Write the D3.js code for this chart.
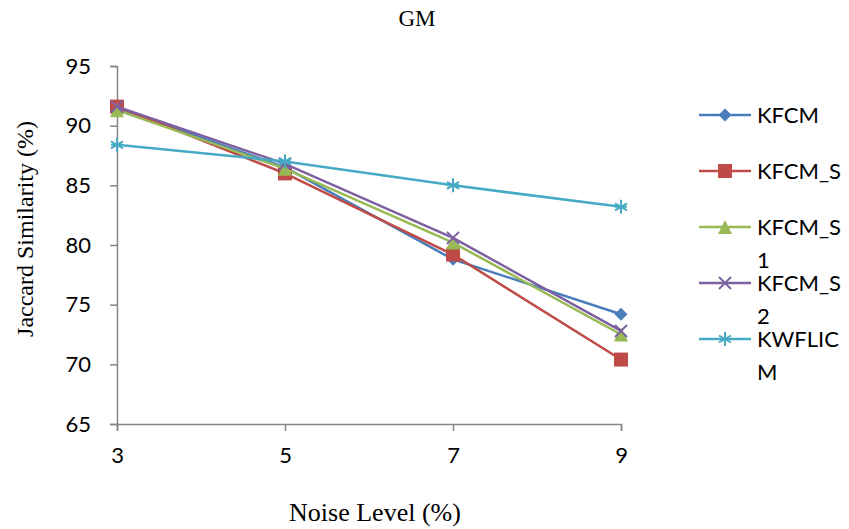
<!DOCTYPE html>
<html><head><meta charset="utf-8">
<script src="https://cdn.jsdelivr.net/npm/d3@7"></script>
<style>body{margin:0;background:#fff}svg{display:block}</style>
</head><body><svg id="c" width="849" height="529"></svg>
<script>
const noiseLevels = [3, 5, 7, 9];
const seriesNames = ["KFCM", "KFCM_S", "KFCM_S1", "KFCM_S2", "KWFLICM"];
const kfcm    = [91.5, 86.5, 78.8, 74.2];
const kfcmS   = [91.6, 86.0, 79.2, 70.4];
const kfcmS1  = [91.3, 86.4, 80.2, 72.5];
const kfcmS2  = [91.6, 86.8, 80.6, 72.8];
const kwflicm = [88.4, 87.0, 85.0, 83.2];
const yTicks = [65, 70, 75, 80, 85, 90, 95];
const legendLines = [["KFCM"], ["KFCM_S"], ["KFCM_S", "1"], ["KFCM_S", "2"], ["KWFLIC", "M"]];

const colors = ["#4A7EBB", "#BE4B48", "#98B954", "#7D60A0", "#46AAC5"];
const shapes = ["diamond", "square", "triangle", "x", "star"];
const data = [kfcm, kfcmS, kfcmS1, kfcmS2, kwflicm];

const svg = d3.select("#c");
const x = d3.scaleLinear().domain([3, 9]).range([117, 621]);
const y = d3.scaleLinear().domain([65, 95]).range([424, 66]);
const axisCol = "#868686";
const tickFont = "Lato, 'Open Sans', sans-serif";
const serif = "'Liberation Serif', 'DejaVu Serif', serif";

// title
svg.append("text").attr("x", 417).attr("y", 26).attr("text-anchor", "middle")
  .attr("font-family", serif).attr("font-size", 23).attr("fill", "#000").text("GM");

// y axis
const yAxis = svg.append("g").attr("transform", "translate(117,0)")
  .call(d3.axisLeft(y).tickValues(yTicks).tickFormat(d3.format("d")).tickSize(7).tickPadding(19));
yAxis.select(".domain").attr("stroke", axisCol).attr("stroke-width", 1.5);
yAxis.selectAll(".tick line").attr("stroke", axisCol).attr("stroke-width", 1.5);
yAxis.selectAll("text").attr("font-family", tickFont).attr("font-size", 22).attr("fill", "#000");

// x axis
const xAxis = svg.append("g").attr("transform", "translate(0,424)")
  .call(d3.axisBottom(x).tickValues(noiseLevels).tickFormat(d3.format("d")).tickSize(7).tickPadding(16));
xAxis.select(".domain").attr("stroke", axisCol).attr("stroke-width", 1.5);
xAxis.selectAll(".tick line").attr("stroke", axisCol).attr("stroke-width", 1.5);
xAxis.selectAll("text").attr("font-family", tickFont).attr("font-size", 22).attr("fill", "#000");

// axis titles
svg.append("text").attr("transform", "translate(33,229) rotate(-90)").attr("text-anchor", "middle")
  .attr("font-family", serif).attr("font-size", 24).attr("fill", "#000").text("Jaccard Similarity (%)");
svg.append("text").attr("x", 375).attr("y", 521).attr("text-anchor", "middle")
  .attr("font-family", serif).attr("font-size", 26).attr("fill", "#000").text("Noise Level (%)");

function drawMarker(g, shape, color, cx, cy) {
  const t = `translate(${cx},${cy})`;
  if (shape === "diamond") {
    const r = 6.5;
    g.append("path").attr("d", `M0,${-r}L${r},0L0,${r}L${-r},0Z`).attr("transform", t).attr("fill", color);
  } else if (shape === "square") {
    const r = 7;
    g.append("path").attr("d", `M${-r},${-r}H${r}V${r}H${-r}Z`).attr("transform", t).attr("fill", color);
  } else if (shape === "triangle") {
    const h = 12, w = 7;
    g.append("path").attr("d", `M0,${-h/2 - 1}L${w},${h/2 + 1}L${-w},${h/2 + 1}Z`).attr("transform", t).attr("fill", color);
  } else if (shape === "x") {
    const r = 6;
    g.append("path").attr("d", `M${-r},${-r}L${r},${r}M${-r},${r}L${r},${-r}`).attr("transform", t)
      .attr("fill", "none").attr("stroke", color).attr("stroke-width", 2);
  } else if (shape === "star") {
    const r = 7;
    let d = "";
    for (let k = 0; k < 3; k++) {
      const a = Math.PI / 2 + k * Math.PI / 3;
      d += `M${-r*Math.cos(a)},${-r*Math.sin(a)}L${r*Math.cos(a)},${r*Math.sin(a)}`;
    }
    d += `M${-r*0.85},0L${r*0.85},0`;
    g.append("path").attr("d", d).attr("transform", t)
      .attr("fill", "none").attr("stroke", color).attr("stroke-width", 2);
  }
}

const line = d3.line().x((d, i) => x(noiseLevels[i])).y(d => y(d));
data.forEach((vals, s) => {
  const g = svg.append("g");
  g.append("path").attr("d", line(vals)).attr("fill", "none").attr("stroke", colors[s]).attr("stroke-width", 2.5);
  vals.forEach((v, i) => drawMarker(g, shapes[s], colors[s], x(noiseLevels[i]), y(v)));
});

// legend
const legY = [115, 171, 227, 283, 339];
seriesNames.forEach((name, s) => {
  const g = svg.append("g");
  g.append("line").attr("x1", 699).attr("x2", 751).attr("y1", legY[s]).attr("y2", legY[s])
    .attr("stroke", colors[s]).attr("stroke-width", 2.5);
  drawMarker(g, shapes[s], colors[s], 725, legY[s]);
  legendLines[s].forEach((t, j) => {
    g.append("text").attr("x", 757).attr("y", legY[s] + 8 + j * 33)
      .attr("font-family", tickFont).attr("font-size", 22).attr("fill", "#000").text(t);
  });
});
</script></body></html>
